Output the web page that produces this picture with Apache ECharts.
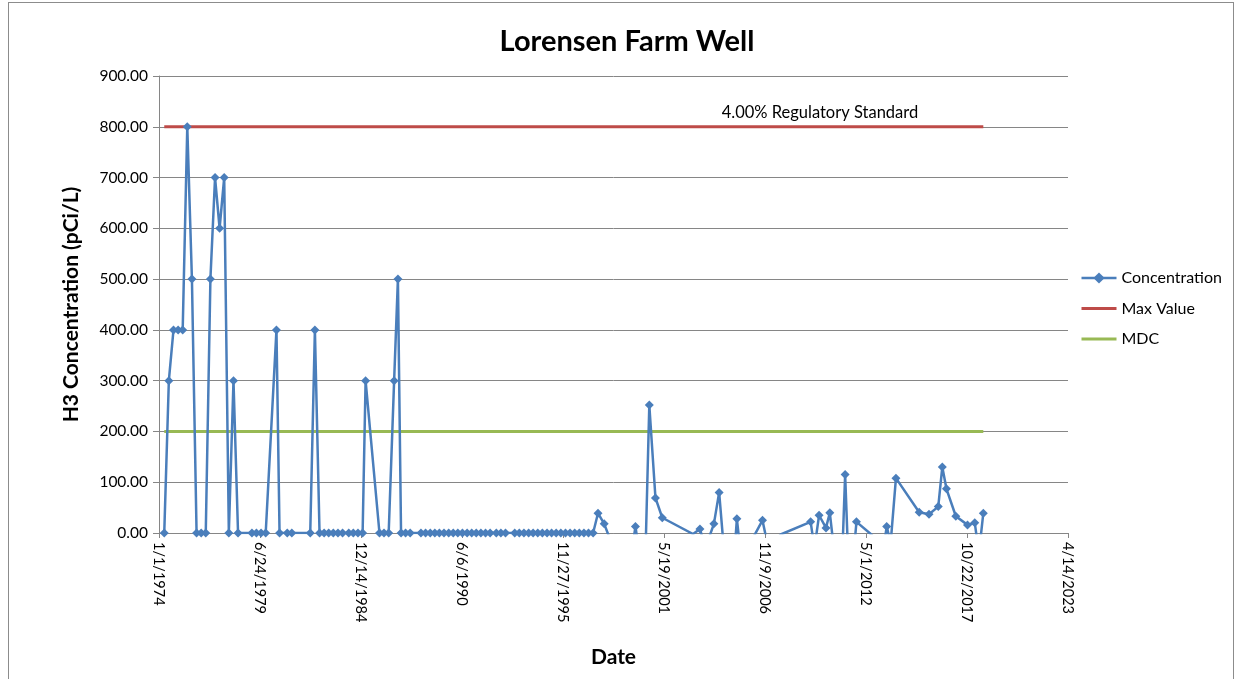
<!DOCTYPE html>
<html>
<head>
<meta charset="utf-8">
<title>Lorensen Farm Well</title>
<script src="https://cdn.jsdelivr.net/npm/echarts@6/dist/echarts.min.js"></script>
<style>
  html, body { margin: 0; padding: 0; background: #fff; }
  #frame { position: absolute; left: 8px; top: 2px; width: 1224px; height: 700px; border: 1px solid #8c8c8c; }
  #chart { position: absolute; left: 0; top: 0; width: 1235px; height: 679px; }
</style>
</head>
<body>
<div id="frame"></div>
<div id="chart"></div>
<script>
// sample dates and H3 concentration (pCi/L); values below 0 are clipped by the axis
let sampleDates = [
	'1974-04-15','1974-07-15','1974-10-15','1975-01-15','1975-04-15','1975-07-15','1975-10-15',
	'1976-01-15','1976-04-15','1976-07-15','1976-10-15','1977-01-15','1977-04-15','1977-07-15',
	'1977-10-15','1978-01-15','1978-04-15','1979-01-15','1979-04-15','1979-07-15','1979-10-15',
	'1980-05-15','1980-07-15','1980-12-15','1981-03-15','1982-03-15','1982-06-15','1982-09-15',
	'1982-12-15','1983-03-15','1983-06-15','1983-09-15','1983-12-15','1984-04-15','1984-07-15',
	'1984-10-15','1985-01-15','1985-03-15','1985-12-15','1986-03-15','1986-06-15','1986-10-01',
	'1986-12-15','1987-02-15','1987-05-15','1987-08-15',
	'1988-03-15','1988-06-15','1988-09-15','1988-12-15','1989-03-15','1989-06-15','1989-09-15',
	'1989-12-15','1990-03-15','1990-06-15','1990-09-15','1990-12-15','1991-03-15','1991-06-15',
	'1991-09-15','1991-12-15','1992-04-15','1992-07-15','1992-10-15',
	'1993-04-15','1993-07-15','1993-10-15','1994-01-15','1994-04-15','1994-07-15','1994-10-15',
	'1995-01-15','1995-04-15','1995-07-15','1995-10-15','1996-01-15','1996-04-15','1996-07-15',
	'1996-10-15','1997-01-15','1997-04-15','1997-07-15',
	'1997-10-20','1998-02-20','1998-07-15','1999-08-15','1999-11-01','2000-01-15','2000-05-15',
	'2000-08-01','2000-12-01','2001-04-15','2002-12-15','2003-05-01','2003-08-15','2004-02-01',
	'2004-05-15','2004-08-15','2005-03-15','2005-05-01','2005-07-15','2006-02-15','2006-09-20',
	'2007-01-15','2007-09-15','2009-05-01','2009-07-15','2009-10-15','2010-03-01','2010-05-15',
	'2010-08-15','2011-01-15','2011-03-15','2011-05-15','2011-09-01','2011-10-25','2012-08-15',
	'2013-04-15','2013-06-15','2013-09-01','2013-12-15','2015-03-20','2015-10-01','2016-04-01',
	'2016-06-20','2016-09-10','2017-03-15','2017-11-01','2018-03-25','2018-06-15','2018-09-10'
];
let concentration = [
	0, 300, 400, 400, 400, 800, 500,
	0, 0, 0, 500, 700, 600, 700,
	0, 300, 0, 0, 0, 0, 0,
	400, 0, 0, 0, 0, 400, 0,
	0, 0, 0, 0, 0, 0, 0,
	0, 0, 300, 0, 0, 0, 300,
	500, 0, 0, 0,
	0, 0, 0, 0, 0, 0, 0,
	0, 0, 0, 0, 0, 0, 0,
	0, 0, 0, 0, 0,
	0, 0, 0, 0, 0, 0, 0,
	0, 0, 0, 0, 0, 0, 0,
	0, 0, 0, 0,
	39, 18, -20, -40, 13, -40, -50,
	252, 69, 30, -2, 8, -30, 18,
	80, -30, -40, 28, -40, -15, 25,
	-30, -3, 22, -30, 35, 10, 40,
	-40, -50, 115, -50, -40, 22, -3,
	-30, 13, -20, 108, 41, 37, 52,
	130, 87, 33, 16, 20, -40, 39
];
// reference lines
let limitDates = ['1974-04-15', '2018-09-10'];
let maxValue = [800, 800];
let mdcValue = [200, 200];
let standardLabel = '4.00% Regulatory Standard';
let standardLabelDate = '2009-11-01';

let axisStart = '1974-01-01';
let axisEnd = '2023-04-14';
let tickDays = 2000;
let yTicks = [0, 100, 200, 300, 400, 500, 600, 700, 800, 900];

const DAY = 86400000;
const FONT = 'Lato';

function toPairs(dates, vals) {
	let out = [];
	for (let i = 0; i < dates.length; i++) {
		out.push([Date.parse(dates[i]), vals[i]]);
	}
	return out;
}
function fmtDate(v) {
	let d = new Date(v);
	return (d.getUTCMonth() + 1) + '/' + d.getUTCDate() + '/' + d.getUTCFullYear();
}

let chart = echarts.init(document.getElementById('chart'));

let option = {
	backgroundColor: 'transparent',
	animation: false,
	title: {
		text: 'Lorensen Farm Well',
		top: 22,
		left: 622,
		textAlign: 'center',
		textStyle: { fontFamily: FONT, fontSize: 29, fontWeight: 'bold', color: '#000' }
	},
	grid: { left: 159, right: 167, top: 76, bottom: 146, containLabel: false },
	legend: {
		orient: 'vertical',
		left: 1075,
		top: 265,
		itemGap: 14.5,
		itemWidth: 35,
		itemHeight: 14,
		textStyle: { fontFamily: FONT, fontSize: 16, color: '#000' },
		data: [
			{ name: 'Concentration', lineStyle: { width: 2.5 } },
			{ name: 'Max Value', itemStyle: { opacity: 0 }, lineStyle: { width: 3 } },
			{ name: 'MDC', itemStyle: { opacity: 0 }, lineStyle: { width: 3 } }
		]
	},
	xAxis: {
		type: 'value',
		min: Date.parse(axisStart),
		max: Date.parse(axisEnd),
		interval: tickDays * DAY,
		name: 'Date',
		nameLocation: 'middle',
		nameGap: 114,
		nameTextStyle: { fontFamily: FONT, fontSize: 21, fontWeight: 'bold', color: '#000' },
		axisLine: { show: true, lineStyle: { color: '#868686', width: 1 } },
		axisTick: { show: true, length: 5, lineStyle: { color: '#868686' } },
		splitLine: { show: false },
		axisLabel: {
			rotate: -90,
			margin: 9,
			fontFamily: FONT,
			fontSize: 14.5,
			color: '#000',
			formatter: fmtDate
		}
	},
	yAxis: {
		type: 'value',
		min: yTicks[0],
		max: yTicks[yTicks.length - 1],
		interval: yTicks[1] - yTicks[0],
		name: 'H3 Concentration (pCi/L)',
		nameLocation: 'middle',
		nameGap: 77,
		nameTextStyle: { fontFamily: FONT, fontSize: 21, fontWeight: 'bold', color: '#000' },
		axisLine: { show: true, lineStyle: { color: '#868686', width: 1 } },
		axisTick: { show: true, length: 6, lineStyle: { color: '#868686' } },
		splitLine: { show: true, lineStyle: { color: '#868686', width: 1 } },
		axisLabel: {
			margin: 11,
			fontFamily: FONT,
			fontSize: 15.5,
			color: '#000',
			formatter: function (v) { return v.toFixed(2); }
		}
	},
	series: [
		{
			name: 'Max Value',
			type: 'line',
			data: toPairs(limitDates, maxValue),
			symbol: 'none',
			itemStyle: { color: '#BE4B48' },
			lineStyle: { color: '#BE4B48', width: 3 },
			markPoint: {
				symbol: 'circle',
				symbolSize: 0,
				data: [{ coord: [Date.parse(standardLabelDate), maxValue[0]] }],
				label: {
					show: true,
					position: 'inside',
					offset: [0, -14],
					formatter: standardLabel,
					fontFamily: FONT,
					fontSize: 16.5,
					color: '#000'
				}
			},
			z: 2
		},
		{
			name: 'MDC',
			type: 'line',
			data: toPairs(limitDates, mdcValue),
			symbol: 'none',
			itemStyle: { color: '#98B954' },
			lineStyle: { color: '#98B954', width: 3 },
			z: 2
		},
		{
			name: 'Concentration',
			type: 'line',
			data: toPairs(sampleDates, concentration),
			symbol: 'diamond',
			symbolSize: 9,
			clip: true,
			itemStyle: { color: '#4A7EBB' },
			lineStyle: { color: '#4A7EBB', width: 2.5 },
			z: 3
		}
	]
};

chart.setOption(option);

window.onresize = function () {
	chart.resize();
};
</script>
</body>
</html>
